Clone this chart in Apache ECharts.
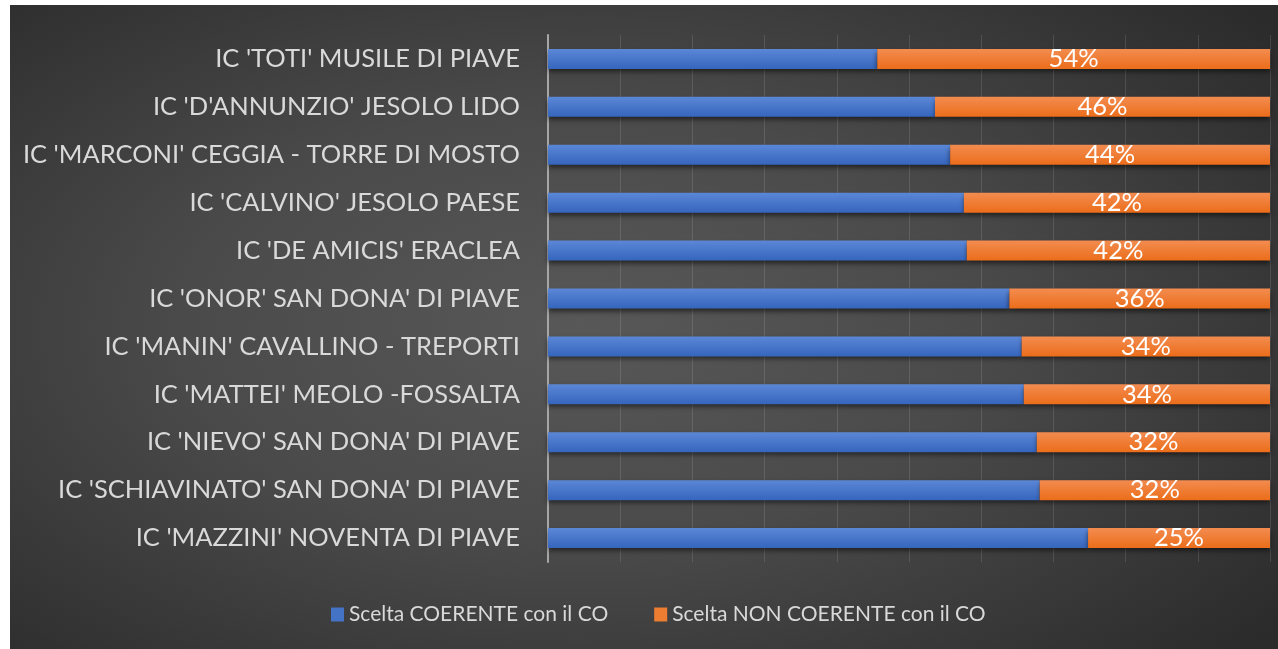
<!DOCTYPE html>
<html>
<head>
<meta charset="utf-8">
<title>Scelta coerente con il CO</title>
<script src="https://cdn.jsdelivr.net/npm/echarts@6/dist/echarts.min.js"></script>
<style>
    html, body { margin: 0; padding: 0; background: #fff; }
    #wrap {
        position: absolute; left: 10px; top: 5px; width: 1268px; height: 644px;
        background: radial-gradient(ellipse 70% 75% at 45% 50%, #585858 0%, #4a4a4a 45%, #2b2b2b 100%);
    }
    #chart { width: 1268px; height: 644px; }
</style>
</head>
<body>
<div id="wrap"><div id="chart"></div></div>
<script>
// categorie dal basso verso l'alto (ordine asse y di echarts)
var scuole = [
    "IC 'MAZZINI' NOVENTA DI PIAVE",
    "IC 'SCHIAVINATO' SAN DONA' DI PIAVE",
    "IC 'NIEVO' SAN DONA' DI PIAVE",
    "IC 'MATTEI' MEOLO -FOSSALTA",
    "IC 'MANIN' CAVALLINO - TREPORTI",
    "IC 'ONOR' SAN DONA' DI PIAVE",
    "IC 'DE AMICIS' ERACLEA",
    "IC 'CALVINO' JESOLO PAESE",
    "IC 'MARCONI' CEGGIA - TORRE DI MOSTO",
    "IC 'D'ANNUNZIO' JESOLO LIDO",
    "IC 'TOTI' MUSILE DI PIAVE"
];
// percentuali
var coerente = [74.8, 68.1, 67.7, 65.9, 65.6, 63.9, 58.0, 57.6, 55.7, 53.6, 45.6];
var nonCoerente = [25.2, 31.9, 32.3, 34.1, 34.4, 36.1, 42.0, 42.4, 44.3, 46.4, 54.4];
var nomiSerie = ["Scelta COERENTE con il CO", "Scelta NON COERENTE con il CO"];

var font = "Lato";

function grad(c1, c2) {
    return new echarts.graphic.LinearGradient(0, 0, 0, 1, [
        { offset: 0, color: c1 },
        { offset: 1, color: c2 }
    ]);
}

var chart = echarts.init(document.getElementById("chart"));
var option = {
    animation: false,
    textStyle: { fontFamily: font },
    grid: { left: 538, right: 8, top: 30, bottom: 87 },
    legend: {
        data: [
            { name: nomiSerie[0], itemStyle: { color: "#4472c4", shadowBlur: 0 } },
            { name: nomiSerie[1], itemStyle: { color: "#ed7d31", shadowBlur: 0 } }
        ],
        left: 316,
        top: 594,
        itemWidth: 13,
        itemHeight: 14,
        itemGap: 46,
        icon: "rect",
        textStyle: { color: "#d9d9d9", fontSize: 21, fontFamily: font }
    },
    xAxis: {
        type: "value",
        min: 0,
        max: 100,
        interval: 10,
        axisLabel: { show: false },
        axisLine: { show: false },
        axisTick: { show: false },
        splitLine: { lineStyle: { color: "rgba(255,255,255,0.12)", width: 1 } }
    },
    yAxis: {
        type: "category",
        data: scuole,
        axisLine: { lineStyle: { color: "#a6a6a6", width: 2 } },
        axisTick: { show: false },
        axisLabel: { color: "#d9d9d9", fontSize: 25.5, margin: 28, fontFamily: font }
    },
    series: [
        {
            name: nomiSerie[0],
            type: "bar",
            stack: "tot",
            barWidth: 20,
            data: coerente,
            itemStyle: {
                color: grad("#5b87d6", "#3565bd"),
                shadowColor: "rgba(0,0,0,0.55)",
                shadowBlur: 5,
                shadowOffsetY: 3
            }
        },
        {
            name: nomiSerie[1],
            type: "bar",
            stack: "tot",
            barWidth: 20,
            data: nonCoerente,
            itemStyle: {
                color: grad("#f38c50", "#eb6d1a"),
                shadowColor: "rgba(0,0,0,0.55)",
                shadowBlur: 5,
                shadowOffsetY: 3
            },
            label: {
                show: true,
                position: "inside",
                color: "#ffffff",
                fontSize: 25.5,
                fontFamily: font,
                formatter: function (p) { return Math.round(p.value) + "%"; }
            }
        }
    ]
};
chart.setOption(option);
</script>
</body>
</html>
